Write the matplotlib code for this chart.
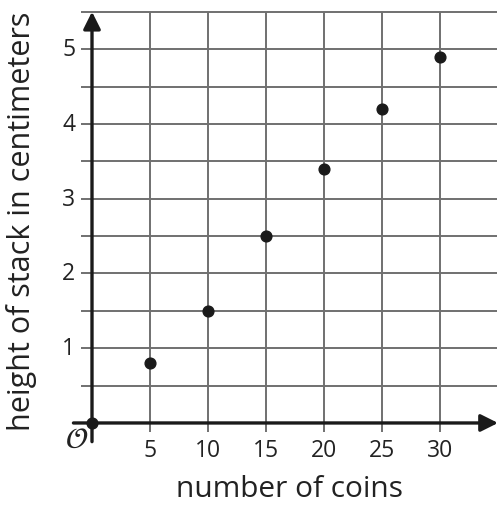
import matplotlib
matplotlib.use("Agg")
from matplotlib import pyplot as plt

plt.rcParams['font.family'] = ['Open Sans', 'DejaVu Sans']

coins = [0, 5, 10, 15, 20, 25, 30]
height = [0, 0.8, 1.5, 2.5, 3.4, 4.2, 4.9]

x_ticks = [5, 10, 15, 20, 25, 30]
y_ticks = [1, 2, 3, 4, 5]
y_grid = [0.5, 1, 1.5, 2, 2.5, 3, 3.5, 4, 4.5, 5, 5.5]

fig = plt.figure(figsize=(4.97, 5.06), dpi=100)
ax = fig.add_axes([68.8 / 497, 1 - 446.4 / 506, (498 - 68.8) / 497, 437.4 / 506])
ax.set_xlim(-2, 35)
ax.set_ylim(-0.3, 5.55)
ax.axis('off')

# grid
ax.hlines(y_grid, -0.95, 35, color='#707070', lw=1.4, zorder=1)
ax.vlines(x_ticks, -0.12, 5.5, color='#707070', lw=1.4, zorder=1)

# axes with arrows
ax.annotate('', xy=(35, 0), xytext=(-1.6, 0),
            arrowprops=dict(arrowstyle='-|>', color='#1a1a1a', lw=2.4,
                            mutation_scale=26, shrinkA=0, shrinkB=0), zorder=3)
ax.annotate('', xy=(0, 5.5), xytext=(0, -0.25),
            arrowprops=dict(arrowstyle='-|>', color='#1a1a1a', lw=2.4,
                            mutation_scale=26, shrinkA=0, shrinkB=0), zorder=3)

# tick labels
for x in x_ticks:
    ax.text(x, -0.2, str(x), ha='center', va='top', fontsize=16.5, color='#222222')
for y in y_ticks:
    ax.text(-1.45, y, str(y), ha='right', va='center', fontsize=16.5, color='#222222')
ax.text(-1.3, -0.22, r'$\mathcal{O}$', ha='center', va='center', fontsize=21, color='#222222')

ax.scatter(coins, height, s=60, color='#1a1a1a', zorder=4, clip_on=False)

fig.text(290 / 497, 1 - 490 / 506, 'number of coins', ha='center', va='center', fontsize=21.5, color='#222222')
fig.text(22 / 497, 1 - 221 / 506, 'height of stack in centimeters', ha='center', va='center',
         rotation=90, fontsize=22, color='#222222')

fig.savefig('out.png', dpi=100)
